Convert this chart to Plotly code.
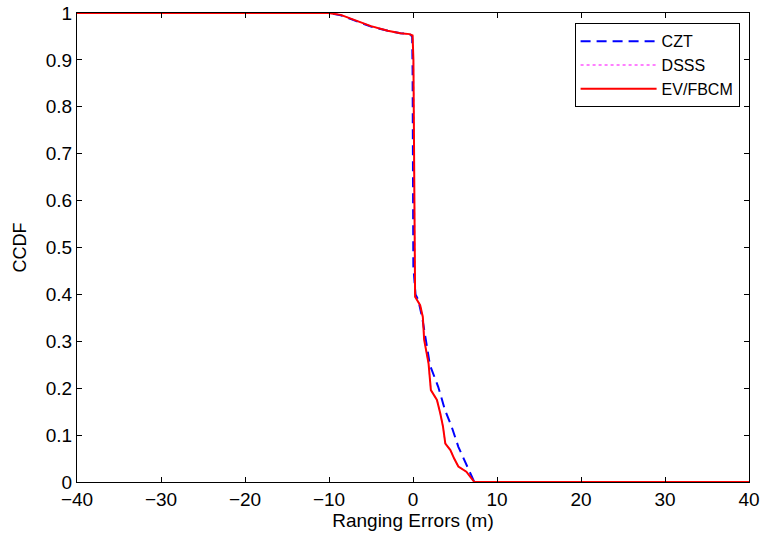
import plotly.graph_objects as go

# Empirical CCDF of ranging errors for three ranging schemes
czt_x = [-40, -10.1, -8.6, -6.2, -5.0, -3.0, -1.5, -0.4, -0.1, -0.05, 0.04, 0.3, 0.63, 1.1,
         1.63, 2.02, 3.0, 3.8, 4.6, 5.4, 6.46, 7.17, 7.3, 40]
czt_y = [1, 1, 0.995, 0.98, 0.971, 0.962, 0.957, 0.955, 0.95, 0.88, 0.46, 0.40, 0.388, 0.35,
         0.296, 0.249, 0.203, 0.154, 0.118, 0.075, 0.033, 0.004, 0, 0]

dsss_x = [-40, -10.1, -8.6, -6.2, -5.0, -3.0, -1.5, -0.4, -0.05, 0.05, 0.15, 0.25, 0.85, 1.17,
          1.33, 1.85, 2.13, 2.85, 3.25, 3.57, 3.85, 4.45, 4.9, 5.4, 6.35, 6.8, 7.3, 40]
dsss_y = [1, 1, 0.996, 0.981, 0.972, 0.962, 0.957, 0.955, 0.952, 0.90, 0.55, 0.395, 0.377, 0.352,
          0.303, 0.253, 0.196, 0.175, 0.146, 0.118, 0.082, 0.068, 0.05, 0.033, 0.022, 0.011, 0, 0]

ev_x = [-40, -10.1, -8.6, -6.2, -5.0, -3.0, -1.5, -0.4, -0.05, 0.05, 0.15, 0.25, 0.85, 1.17,
        1.33, 1.85, 2.13, 2.85, 3.25, 3.57, 3.85, 4.45, 4.9, 5.4, 6.35, 6.8, 7.3, 40]
ev_y = [1, 1, 0.996, 0.981, 0.972, 0.962, 0.957, 0.955, 0.952, 0.90, 0.55, 0.395, 0.377, 0.352,
        0.303, 0.253, 0.196, 0.175, 0.146, 0.118, 0.082, 0.068, 0.05, 0.033, 0.022, 0.011, 0, 0]

x_ticks = [-40, -30, -20, -10, 0, 10, 20, 30, 40]
y_ticks = [0, 0.1, 0.2, 0.3, 0.4, 0.5, 0.6, 0.7, 0.8, 0.9, 1]

FONT = "Liberation Sans, Arial, Helvetica, sans-serif"
FS = 19

fig = go.Figure()
fig.add_trace(go.Scatter(x=czt_x, y=czt_y, mode="lines", name="CZT",
                         line=dict(color="#0000ff", width=2, dash="10px,6px")))
fig.add_trace(go.Scatter(x=dsss_x, y=dsss_y, mode="lines", name="DSSS",
                         line=dict(color="#ff00ff", width=1.2, dash="dot")))
fig.add_trace(go.Scatter(x=ev_x, y=ev_y, mode="lines", name="EV/FBCM",
                         line=dict(color="#ff0000", width=2)))

axis_common = dict(showline=True, linecolor="black", linewidth=1, mirror="ticks",
                   ticks="inside", ticklen=5, tickcolor="black", showgrid=False,
                   zeroline=False, automargin=False,
                   tickfont=dict(family=FONT, size=FS, color="black"))

fig.update_layout(
    width=764, height=540,
    margin=dict(l=77, r=15, t=13, b=58),
    paper_bgcolor="white", plot_bgcolor="white",
    font=dict(family=FONT, size=FS, color="black"),
    xaxis=dict(range=[-40, 40], tickvals=x_ticks,
               title=dict(text="Ranging Errors (m)", standoff=0,
                          font=dict(family=FONT, size=FS)), **axis_common),
    yaxis=dict(range=[0, 1], tickvals=y_ticks,
               title=dict(text="CCDF", standoff=14,
                          font=dict(family=FONT, size=18)), **axis_common),
    legend=dict(x=0.986, y=0.978, xanchor="right", yanchor="top",
                bgcolor="white", bordercolor="black", borderwidth=1,
                font=dict(family=FONT, size=16), itemwidth=76,
                tracegroupgap=0),
    showlegend=True,
)

fig.write_html("out.html")
